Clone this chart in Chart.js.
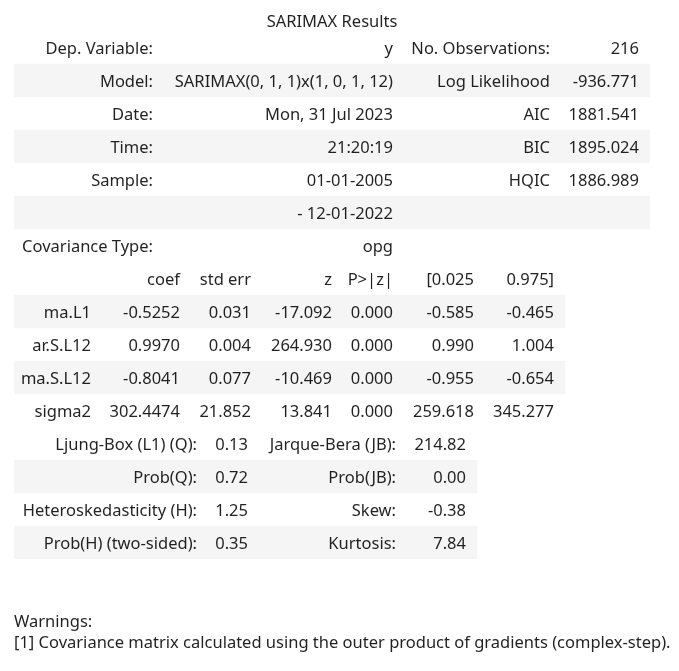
<!DOCTYPE html>
<html>
<head>
<meta charset="utf-8">
<title>SARIMAX Results</title>
<script src="https://cdn.jsdelivr.net/npm/chart.js@4"></script>
<style>
  html, body { margin: 0; padding: 0; background: #ffffff; }
  #wrap { width: 679px; height: 671px; }
</style>
</head>
<body>
<div id="wrap"><canvas id="summary" width="679" height="671"></canvas></div>
<script>
// Model summary
const titleText = "SARIMAX Results";
const infoLabelsLeft = ["Dep. Variable:", "Model:", "Date:", "Time:", "Sample:", "", "Covariance Type:"];
const infoValuesLeft = ["y", "SARIMAX(0, 1, 1)x(1, 0, 1, 12)", "Mon, 31 Jul 2023", "21:20:19", "01-01-2005", "- 12-01-2022", "opg"];
const infoLabelsRight = ["No. Observations:", "Log Likelihood", "AIC", "BIC", "HQIC", "", ""];
const infoValuesRight = ["216", "-936.771", "1881.541", "1895.024", "1886.989", "", ""];

// Coefficients
const coefHeaders = ["", "coef", "std err", "z", "P>|z|", "[0.025", "0.975]"];
const paramNames = ["ma.L1", "ar.S.L12", "ma.S.L12", "sigma2"];
const coefValues = [-0.5252, 0.9970, -0.8041, 302.4474];
const stdErrValues = [0.031, 0.004, 0.077, 21.852];
const zValues = [-17.092, 264.930, -10.469, 13.841];
const pValues = [0.000, 0.000, 0.000, 0.000];
const ciLowValues = [-0.585, 0.990, -0.955, 259.618];
const ciHighValues = [-0.465, 1.004, -0.654, 345.277];

// Residual diagnostics
const diagLabelsLeft = ["Ljung-Box (L1) (Q):", "Prob(Q):", "Heteroskedasticity (H):", "Prob(H) (two-sided):"];
const diagValuesLeft = [0.13, 0.72, 1.25, 0.35];
const diagLabelsRight = ["Jarque-Bera (JB):", "Prob(JB):", "Skew:", "Kurtosis:"];
const diagValuesRight = [214.82, 0.00, -0.38, 7.84];

const warningLines = [
  "Warnings:",
  "[1] Covariance matrix calculated using the outer product of gradients (complex-step)."
];

// layout (x units = pixels from the table's left edge)
const FONT = '16.5px "Noto Sans", "Open Sans", sans-serif';
const TEXT_COLOR = "rgba(0, 0, 0, 0.87)";
const STRIPE = "#f5f5f5";
const BASELINE_SHIFT = 2;
const infoCols = [139, 379, 536, 625];
const coefCols = [77, 166, 237, 318, 379, 460, 540];
const diagCols = [183, 234, 382, 452];
const tableWidths = { info: 636, coef: 551, diag: 463 };

// one row per table line, in order
const rows = [];
infoLabelsLeft.forEach((lab, i) => {
  rows.push({
    table: "info",
    cells: [lab, infoValuesLeft[i], infoLabelsRight[i], infoValuesRight[i]],
    striped: i % 2 === 1
  });
});
rows.push({ table: "coef", cells: coefHeaders, striped: false });
paramNames.forEach((name, i) => {
  rows.push({
    table: "coef",
    cells: [
      name,
      coefValues[i].toFixed(4),
      stdErrValues[i].toFixed(3),
      zValues[i].toFixed(3),
      pValues[i].toFixed(3),
      ciLowValues[i].toFixed(3),
      ciHighValues[i].toFixed(3)
    ],
    striped: i % 2 === 0
  });
});
diagLabelsLeft.forEach((lab, i) => {
  rows.push({
    table: "diag",
    cells: [lab, diagValuesLeft[i].toFixed(2), diagLabelsRight[i], diagValuesRight[i].toFixed(2)],
    striped: i % 2 === 1
  });
});

const colsFor = { info: infoCols, coef: coefCols, diag: diagCols };

const tableText = {
  id: "tableText",
  afterDatasetsDraw(chart) {
    const { ctx, scales } = chart;
    const x = scales.x;
    const y = scales.y;
    ctx.save();
    ctx.font = FONT;
    ctx.fillStyle = TEXT_COLOR;
    ctx.textBaseline = "middle";

    // caption centred over the first table
    ctx.textAlign = "center";
    ctx.fillText(titleText, x.getPixelForValue(tableWidths.info / 2), y.top - 11 + BASELINE_SHIFT);

    ctx.textAlign = "right";
    rows.forEach((row, r) => {
      const cy = y.getPixelForValue(r) + BASELINE_SHIFT;
      const cols = colsFor[row.table];
      row.cells.forEach((txt, c) => {
        if (txt) ctx.fillText(txt, x.getPixelForValue(cols[c]), cy);
      });
    });

    ctx.textAlign = "left";
    warningLines.forEach((line, i) => {
      ctx.fillText(line, x.getPixelForValue(0), y.bottom + 61 + i * 21 + BASELINE_SHIFT);
    });
    ctx.restore();
  }
};

const ctx = document.getElementById("summary").getContext("2d");
new Chart(ctx, {
  type: "bar",
  data: {
    labels: rows.map((r, i) => "row" + i),
    datasets: [
      {
        label: "stripes",
        data: rows.map((r) => (r.striped ? [0, tableWidths[r.table]] : null)),
        backgroundColor: STRIPE,
        borderWidth: 0,
        barPercentage: 1,
        categoryPercentage: 1
      }
    ]
  },
  options: {
    indexAxis: "y",
    responsive: false,
    animation: false,
    events: [],
    layout: { padding: { top: 31, bottom: 112, left: 14, right: 29 } },
    scales: {
      x: { type: "linear", min: 0, max: 636, display: false },
      y: { type: "category", display: false, offset: true }
    },
    plugins: {
      legend: { display: false },
      tooltip: { enabled: false }
    }
  },
  plugins: [tableText]
});
</script>
</body>
</html>
